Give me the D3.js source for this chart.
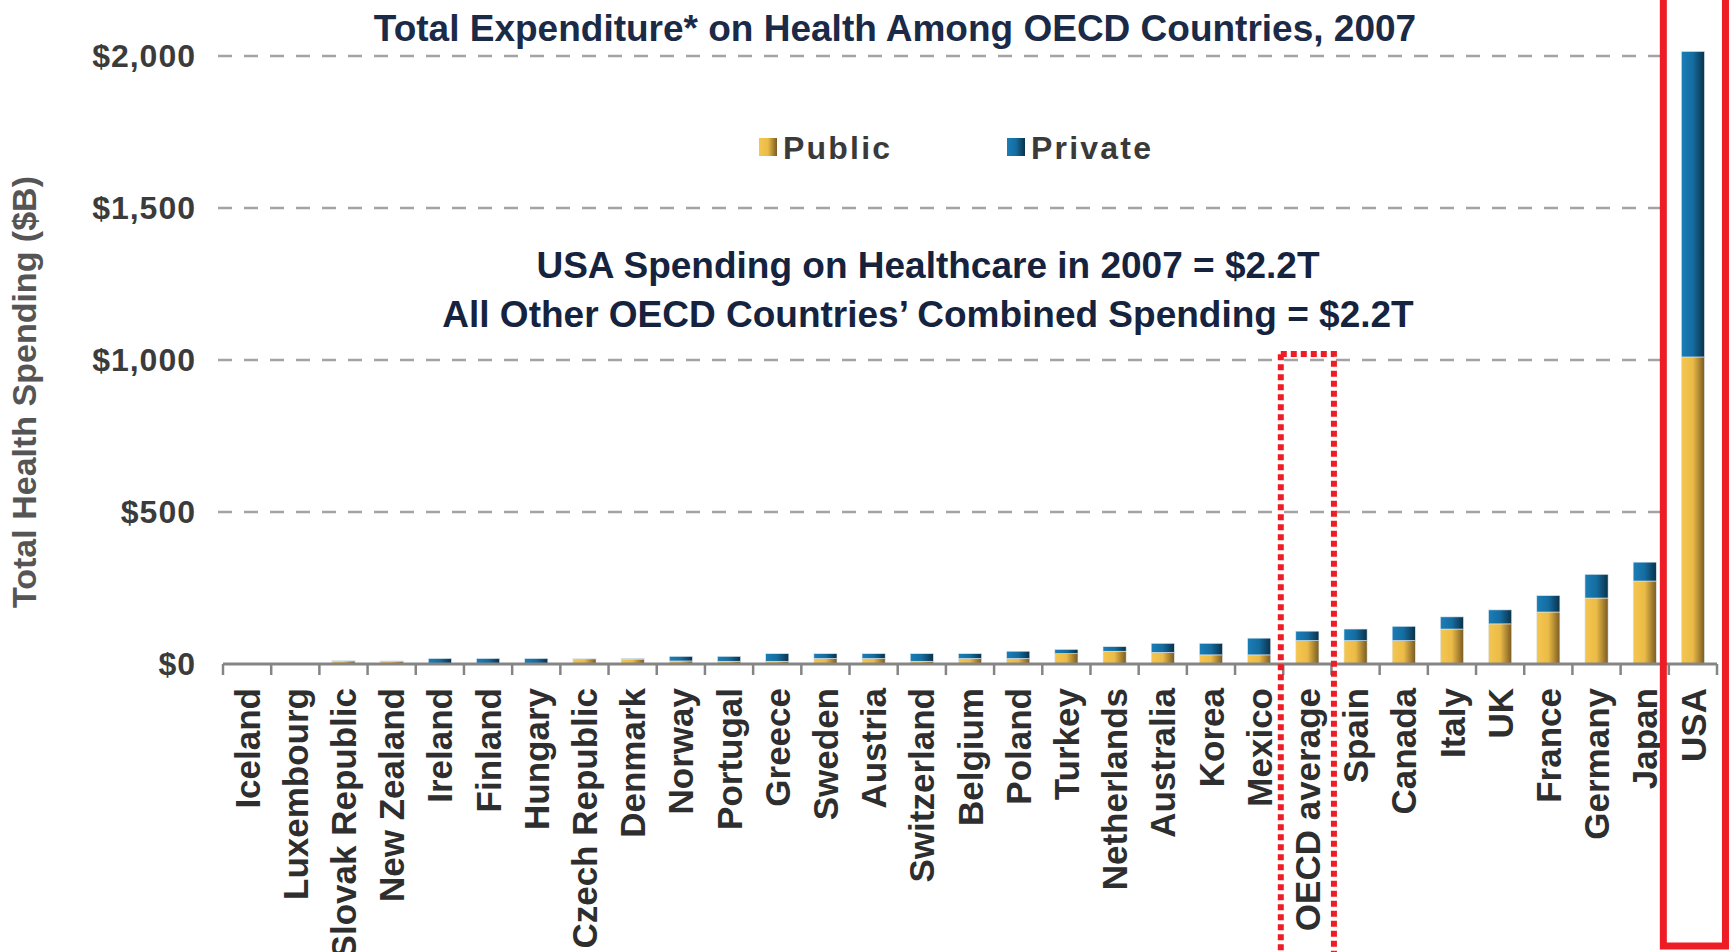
<!DOCTYPE html>
<html>
<head>
<meta charset="utf-8">
<script src="https://cdn.jsdelivr.net/npm/d3@7"></script>
<style>
body { margin: 0; background: #fff; }
svg { display: block; }
text { font-family: "Liberation Sans", Arial, sans-serif; font-weight: bold; }
</style>
</head>
<body>
<div id="chart"></div>
<script>
// values in $B
var countries = ["Iceland", "Luxembourg", "Slovak Republic", "New Zealand", "Ireland", "Finland",
  "Hungary", "Czech Republic", "Denmark", "Norway", "Portugal", "Greece", "Sweden", "Austria",
  "Switzerland", "Belgium", "Poland", "Turkey", "Netherlands", "Australia", "Korea", "Mexico",
  "OECD  average", "Spain", "Canada", "Italy", "UK", "France", "Germany", "Japan", "USA"];
var publicSpend = [1, 1, 10, 9, 1, 1, 1, 17, 16, 10, 9, 9, 18, 18, 9, 18, 18, 34, 42, 38, 30, 30,
  77, 77, 77, 115, 132, 171, 217, 273, 1010];
var privateSpend = [0.5, 0.5, 1, 1, 17, 17, 17, 1, 2, 15, 16, 25, 16, 16, 25, 16, 24, 14, 15, 30, 38, 55,
  31, 38, 47, 40, 46, 54, 78, 62, 1005];
var yTicks = [0, 500, 1000, 1500, 2000];
var gridTicks = [500, 1000, 1500, 2000];
var seriesNames = ["Public", "Private"];

var w = 1729, h = 952;
var x0 = 223, x1 = 1717, yBase = 664, yTop = 56;

var svg = d3.select("#chart").append("svg").attr("width", w).attr("height", h);

var x = d3.scaleBand().domain(countries).range([x0, x1]).paddingInner(0.52).paddingOuter(0.26);
var y = d3.scaleLinear().domain([0, 2000]).range([yBase, yTop]);
var color = d3.scaleOrdinal().domain(seriesNames).range(["url(#gPublic)", "url(#gPrivate)"]);

// horizontal shading like the original bars
var defs = svg.append("defs");
function grad(id, stops) {
  var g = defs.append("linearGradient").attr("id", id).attr("x1", 0).attr("x2", 1).attr("y1", 0).attr("y2", 0);
  stops.forEach(function(s) { g.append("stop").attr("offset", s[0]).attr("stop-color", s[1]); });
}
grad("gPublic", [[0, "#f5c64f"], [0.5, "#ebbb47"], [1, "#7a5b22"]]);
grad("gPrivate", [[0, "#1a7eb8"], [0.5, "#156c9f"], [1, "#0a3149"]]);

// gridlines
svg.append("g").selectAll("line").data(gridTicks).join("line")
  .attr("x1", 218).attr("x2", x1)
  .attr("y1", d => y(d)).attr("y2", d => y(d))
  .attr("stroke", "#a3a3a3").attr("stroke-width", 2.5).attr("stroke-dasharray", "14,12");

// white backing of the USA highlight box
var step = x.step();
var usaL = x("USA") - 18, usaR = x("USA") + x.bandwidth() + 21;
svg.append("rect").attr("x", usaL).attr("y", -10).attr("width", usaR - usaL).attr("height", 956)
  .attr("fill", "#fff");

// stacked bars
var table = countries.map((c, i) => ({ country: c, Public: publicSpend[i], Private: privateSpend[i] }));
var stacked = d3.stack().keys(seriesNames)(table);

svg.append("g").selectAll("g").data(stacked).join("g")
  .attr("fill", d => color(d.key))
  .selectAll("rect").data(d => d).join("rect")
  .attr("x", d => x(d.data.country))
  .attr("width", x.bandwidth())
  .attr("y", d => y(d[1]))
  .attr("height", d => y(d[0]) - y(d[1]))
  .attr("stroke", "#dfe8f0").attr("stroke-width", 0.6);

// x axis line and ticks between categories
var xAxis = svg.append("g");
xAxis.append("line").attr("x1", x0).attr("x2", x1).attr("y1", yBase).attr("y2", yBase)
  .attr("stroke", "#858585").attr("stroke-width", 3);
var edges = countries.map(c => x(c) - step * x.paddingInner() / 2).concat([x1]);
xAxis.selectAll(".tk").data(edges).join("line").attr("class", "tk")
  .attr("x1", d => d).attr("x2", d => d).attr("y1", yBase).attr("y2", yBase + 11)
  .attr("stroke", "#858585").attr("stroke-width", 2.5);

// category labels
var xLab = svg.append("g").attr("transform", "translate(0," + yBase + ")")
  .call(d3.axisBottom(x).tickSize(0));
xLab.select(".domain").remove();
xLab.selectAll("text")
  .attr("transform", "rotate(-90)")
  .attr("x", -24).attr("y", 0).attr("dy", "0.36em")
  .attr("text-anchor", "end")
  .attr("font-size", 35).attr("font-family", null).attr("fill", "#2e2e2e");

// y tick labels
var yAx = svg.append("g").attr("transform", "translate(200,0)")
  .call(d3.axisLeft(y).tickValues(yTicks).tickSize(0).tickPadding(4).tickFormat(d => "$" + d3.format(",")(d)));
yAx.select(".domain").remove();
yAx.selectAll("text").attr("font-size", 32).attr("font-family", null).attr("fill", "#3b3b3b")
  .attr("letter-spacing", 1);

// y axis title
svg.append("text")
  .attr("transform", "translate(36,392) rotate(-90)")
  .attr("text-anchor", "middle").attr("font-size", 34).attr("fill", "#555")
  .text("Total Health Spending ($B)");

// chart title
svg.append("text").attr("x", 895).attr("y", 41).attr("text-anchor", "middle")
  .attr("font-size", 37).attr("fill", "#1b2a47")
  .text("Total Expenditure* on Health Among OECD Countries, 2007");

// legend
var legendPos = [759, 1007];
var leg = svg.append("g").selectAll("g").data(seriesNames).join("g")
  .attr("transform", (d, i) => "translate(" + legendPos[i] + ",147)");
leg.append("rect").attr("x", 0).attr("y", -9).attr("width", 18).attr("height", 18)
  .attr("fill", d => color(d));
leg.append("text").attr("x", 24).attr("y", 0).attr("dy", "0.36em")
  .attr("font-size", 32).attr("letter-spacing", 2.2).attr("fill", "#3a3a3a")
  .text(d => d);

// annotation
var notes = ["USA Spending on Healthcare in 2007 = $2.2T",
  "All Other OECD Countries\u2019 Combined Spending = $2.2T"];
svg.append("g").selectAll("text").data(notes).join("text")
  .attr("x", 928).attr("y", (d, i) => 278 + i * 49).attr("text-anchor", "middle")
  .attr("font-size", 37).attr("fill", "#15233f")
  .text(d => d);

// OECD average dotted box
var oL = x("OECD  average") - 15, oR = x("OECD  average") + x.bandwidth() + 15;
svg.append("rect").attr("x", oL).attr("y", y(1000) - 6).attr("width", oR - oL).attr("height", 620)
  .attr("fill", "none").attr("stroke", "#ee1c24").attr("stroke-width", 6)
  .attr("stroke-dasharray", "6,4");

// USA solid box
svg.append("rect").attr("x", usaL).attr("y", -10).attr("width", usaR - usaL).attr("height", 956)
  .attr("fill", "none").attr("stroke", "#ee1c24").attr("stroke-width", 7);
</script>
</body>
</html>
